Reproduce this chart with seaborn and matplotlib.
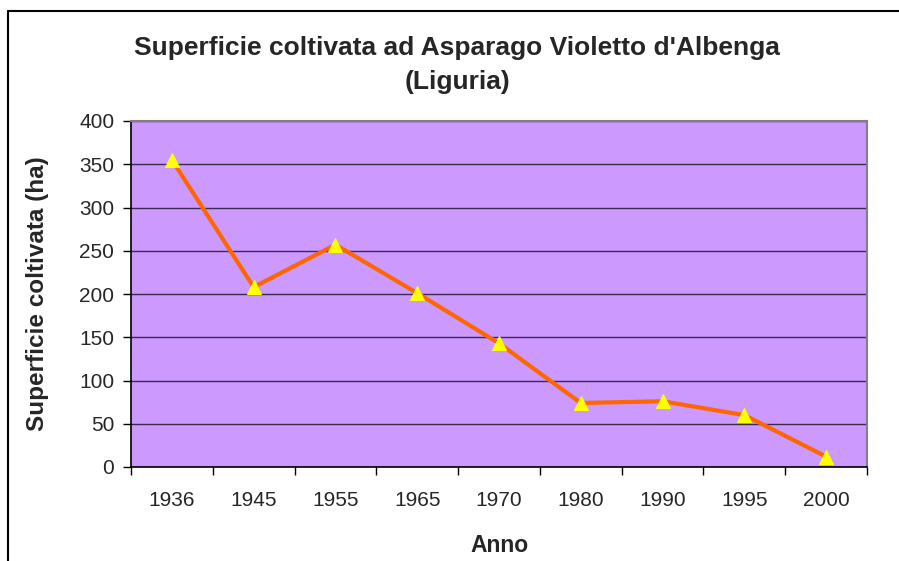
import matplotlib
matplotlib.use("Agg")
import matplotlib.pyplot as plt
from matplotlib.lines import Line2D
from matplotlib.ticker import FixedLocator, NullFormatter
import seaborn as sns
import pandas as pd
import numpy as np

years = ["1936", "1945", "1955", "1965", "1970", "1980", "1990", "1995", "2000"]
area_ha = [355, 208, 257, 201, 143, 74, 76, 60, 12]
y_ticks = [0, 50, 100, 150, 200, 250, 300, 350, 400]

title = "Superficie coltivata ad Asparago Violetto d'Albenga\n(Liguria)"
x_label = "Anno"
y_label = "Superficie coltivata (ha)"

sns.set_style("white")
plt.rcParams["font.family"] = ["Liberation Sans", "DejaVu Sans"]

df = pd.DataFrame({"Anno": years, "Superficie": area_ha})

W, H = 899, 561
fig = plt.figure(figsize=(W / 100, H / 100), dpi=100)
fig.patch.set_facecolor("white")

L, R, T, B = 131, 867, 121, 467
ax = fig.add_axes([L / W, 1 - B / H, (R - L) / W, (B - T) / H])
ax.set_facecolor("#CC99FF")

sns.lineplot(data=df, x="Anno", y="Superficie", ax=ax, color="#FF6600",
             linewidth=3, marker="^", markersize=10,
             markerfacecolor="#FFFF00", markeredgecolor="#FFFF00", zorder=3)

n = len(years)
ax.set_xlim(-0.5, n - 0.5)
ax.set_ylim(0, 400)
ax.set_yticks(y_ticks)
ax.yaxis.grid(True, color="#3a2a50", linewidth=1)
ax.set_axisbelow(True)

# category boundaries as major ticks, labels at centers as minor ticks
ax.xaxis.set_major_locator(FixedLocator(np.arange(-0.5, n, 1.0)))
ax.xaxis.set_major_formatter(NullFormatter())
ax.xaxis.set_minor_locator(FixedLocator(np.arange(n)))
ax.set_xticklabels(years, minor=True)
ax.tick_params(axis="x", which="major", direction="out", length=6, width=1, color="black", bottom=True)
ax.tick_params(axis="x", which="minor", length=0, pad=17, labelsize=15)
ax.tick_params(axis="y", direction="out", length=6, width=1, color="black", left=True, labelsize=15, pad=6)

for s in ["left", "bottom"]:
    ax.spines[s].set_color("black")
    ax.spines[s].set_linewidth(1.2)
for s in ["top", "right"]:
    ax.spines[s].set_color("#808080")
    ax.spines[s].set_linewidth(1.5)

ax.set_xlabel("")
ax.set_ylabel("")
fig.text((L + R) / 2 / W, 1 - 545 / H, x_label, ha="center", va="center",
         fontsize=16.5, fontweight="bold")
fig.text(38 / W, 1 - 294 / H, y_label, ha="center", va="center",
         rotation=90, fontsize=17.5, fontweight="bold")
fig.text(457 / W, 1 - 65 / H, title, ha="center", va="center",
         fontsize=19, fontweight="bold", linespacing=1.55)

# outer chart border (extends beyond the image)
fig.add_artist(Line2D([8 / W, 8 / W], [-0.1, 1 - 10.5 / H], color="black", linewidth=1.5))
fig.add_artist(Line2D([8 / W, 1.1], [1 - 10.5 / H, 1 - 10.5 / H], color="black", linewidth=1.5))

fig.savefig("out.png", dpi=100, facecolor="white")
